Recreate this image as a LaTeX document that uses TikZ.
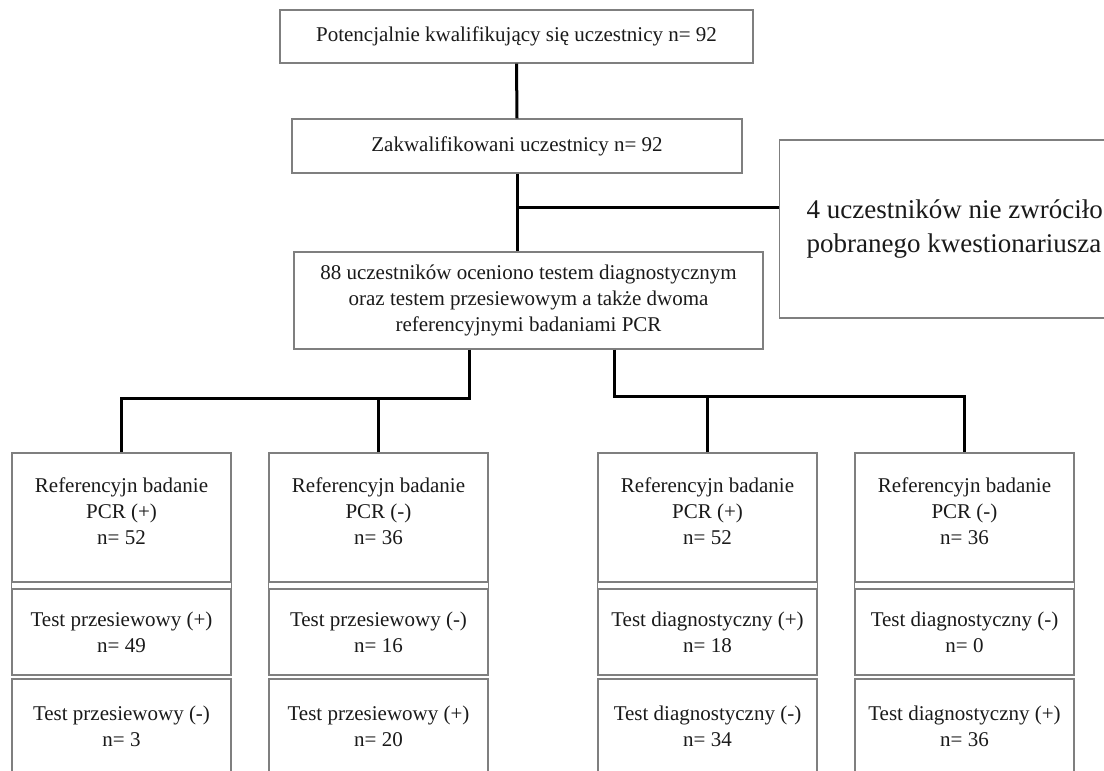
\documentclass[tikz,border=0pt]{standalone}
\usepackage{fontspec}
\setmainfont{Liberation Serif}
\definecolor{boxgray}{HTML}{7F7F7F}
\definecolor{txtgray}{HTML}{1A1A1A}
\tikzset{
  box/.style={draw=boxgray, line width=1.3pt, rectangle, inner sep=0pt, fill=white,
    align=center, text=txtgray, font=\fontsize{21}{26}\selectfont},
  txt/.style={align=center, inner sep=0pt, text=txtgray, font=\fontsize{21}{26}\selectfont},
  sideline/.style={draw=boxgray, line width=1.3pt},
  conn/.style={line width=3pt, black},
  colbox/.style={box, minimum width=219pt},
}
\begin{document}
\begin{tikzpicture}[x=1pt,y=-1pt]
\useasboundingbox (0,0) rectangle (1104,771);
% top chain
\node[box, minimum width=473pt, minimum height=53pt] (top) at (516.5,36.5) {Potencjalnie kwalifikujący się uczestnicy n= 92};
\node[box, minimum width=450pt, minimum height=54pt] (qual) at (517,146) {Zakwalifikowani uczestnicy n= 92};
\node[box, minimum width=469pt, minimum height=97pt] (eval) at (528.5,300.5) {88 uczestników oceniono testem diagnostycznym\\oraz testem przesiewowym a także dwoma\\referencyjnymi badaniami PCR};
\node[box, minimum height=178pt, inner xsep=27pt, align=left, anchor=west,
      font=\fontsize{27}{34}\selectfont] (excl) at (779,229) {4 uczestników nie zwróciło\\pobranego kwestionariusza};
\coordinate (j) at (517,207);
\draw[conn] (top.south) -- (qual.north);
\draw[conn] (qual.south) -- (qual.south |- eval.north);
\draw[conn] (j) -- (j -| excl.west);
% column A
\node[colbox, minimum height=129pt] (refA) at (121.5,517.5) {};
\node[txt] (refAt) at (121.5,511) {Referencyjn badanie\\PCR (+)\\n= 52};
\node[colbox, minimum height=86pt] (tA1) at (121.5,632) {Test przesiewowy (+)\\n= 49};
\node[colbox, minimum height=94pt] (tA2) at (121.5,726) {Test przesiewowy (-)\\n= 3};
% column B
\node[colbox, minimum height=129pt] (refB) at (378.5,517.5) {};
\node[txt] (refBt) at (378.5,511) {Referencyjn badanie\\PCR (-)\\n= 36};
\node[colbox, minimum height=86pt] (tB1) at (378.5,632) {Test przesiewowy (-)\\n= 16};
\node[colbox, minimum height=94pt] (tB2) at (378.5,726) {Test przesiewowy (+)\\n= 20};
% column C
\node[colbox, minimum height=129pt] (refC) at (707.5,517.5) {};
\node[txt] (refCt) at (707.5,511) {Referencyjn badanie\\PCR (+)\\n= 52};
\node[colbox, minimum height=86pt] (tC1) at (707.5,632) {Test diagnostyczny (+)\\n= 18};
\node[colbox, minimum height=94pt] (tC2) at (707.5,726) {Test diagnostyczny (-)\\n= 34};
% column D
\node[colbox, minimum height=129pt] (refD) at (964.5,517.5) {};
\node[txt] (refDt) at (964.5,511) {Referencyjn badanie\\PCR (-)\\n= 36};
\node[colbox, minimum height=86pt] (tD1) at (964.5,632) {Test diagnostyczny (-)\\n= 0};
\node[colbox, minimum height=94pt] (tD2) at (964.5,726) {Test diagnostyczny (+)\\n= 36};
% double-line gaps
\foreach \c in {A,B,C,D}{
  \draw[sideline] (ref\c.south west) -- (t\c1.north west);
  \draw[sideline] (ref\c.south east) -- (t\c1.north east);
}
% branches
\coordinate (bl) at (469,398);
\coordinate (br) at (614,396);
\draw[conn] (bl |- eval.south) -- (bl) -| (refA.north);
\draw[conn] (refB.north) -- (refB.north |- bl);
\draw[conn] (br |- eval.south) -- (br) -| (refD.north);
\draw[conn] (refC.north) -- (refC.north |- br);
\end{tikzpicture}
\end{document}
